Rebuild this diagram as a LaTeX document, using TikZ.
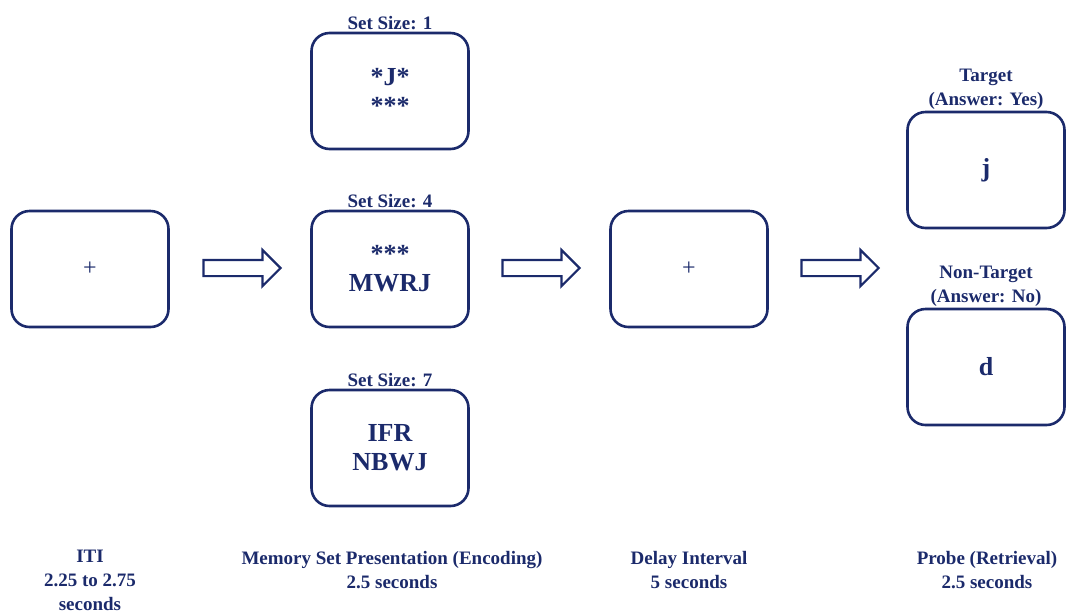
\documentclass[tikz,border=0pt]{standalone}
\usepackage{fontspec}
\setmainfont{Liberation Serif}
\usepackage{xcolor}
\usepackage{tikz}
\usetikzlibrary{positioning, shapes.arrows}
\definecolor{navy}{HTML}{1B2A6B}

\begin{document}
\begin{tikzpicture}[x=1pt, y=-1pt,
    screen/.style={draw=navy, line width=2.6pt, rounded corners=18pt, minimum width=157pt, minimum height=116pt, text=navy, align=center, font=\bfseries\fontsize{26}{29}\selectfont},
    caption/.style={text=navy, align=center, font=\bfseries\fontsize{19}{24}\selectfont},
    flow/.style={single arrow, draw=navy, line width=2.2pt, minimum height=77pt, inner sep=7pt, single arrow head extend=10pt}]
    \useasboundingbox (0,0) rectangle (1067,614);
    % screens
    \node[screen](iti) at (90,269) {\mdseries\fontsize{24}{28}\selectfont +};
    \node[screen](set1) at (390,91) {*J*\\***};
    \node[screen](set4) at (390,269) {***\\MWRJ};
    \node[screen](set7) at (390,448) {IFR\\NBWJ};
    \node[screen](delay) at (689,269) {\mdseries\fontsize{24}{28}\selectfont +};
    \node[screen](target) at (986,170) {j};
    \node[screen](nontarget) at (986,367) {d};
    % headings
    \node[caption, above=-2pt of set1] {Set Size: 1};
    \node[caption, above=-2pt of set4] {Set Size: 4};
    \node[caption, above=-2pt of set7] {Set Size: 7};
    \node[caption, above=-2pt of target] {Target\\(Answer: Yes)};
    \node[caption, above=-2pt of nontarget] {Non-Target\\(Answer: No)};
    % flow arrows
    \node[flow](arrow1) at (238,268) {};
    \node[flow](arrow2) at (537,268) {};
    \node[flow](arrow3) at (836,268) {};
    % phases
    \node[caption](phase1) at (90,580) {ITI\\2.25 to 2.75\\seconds};
    \node[caption](phase2) at (392,570) {Memory Set Presentation (Encoding)\\2.5 seconds};
    \node[caption](phase3) at (689,570) {Delay Interval\\5 seconds};
    \node[caption](phase4) at (987,570) {Probe (Retrieval)\\2.5 seconds};
\end{tikzpicture}
\end{document}
